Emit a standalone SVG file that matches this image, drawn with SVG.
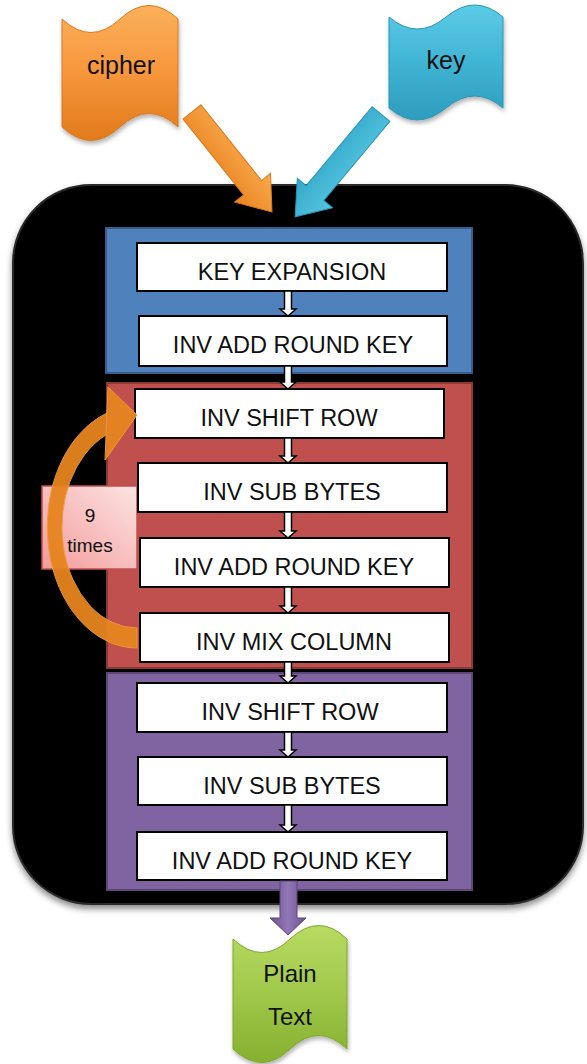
<svg xmlns="http://www.w3.org/2000/svg" width="587" height="1064" viewBox="0 0 587 1064">
<defs>
<style>
.box{fill:#ffffff;stroke:#000000;stroke-width:2}
.lbl{font-family:"Liberation Sans",Arial,sans-serif;font-size:23.5px;fill:#111111;text-anchor:middle}
.doc{font-family:"Liberation Sans",Arial,sans-serif;font-size:25px;fill:#111111;text-anchor:middle}
.conn{fill:#ffffff;stroke:#000000;stroke-width:1.5;stroke-linejoin:miter}
</style>
<linearGradient id="gOrange" x1="0" y1="0" x2="0" y2="1">
<stop offset="0" stop-color="#FBB05A"/><stop offset="0.5" stop-color="#F7963C"/><stop offset="1" stop-color="#E07A1C"/>
</linearGradient>
<linearGradient id="gBlue" x1="0" y1="0" x2="0" y2="1">
<stop offset="0" stop-color="#5CCBE6"/><stop offset="0.5" stop-color="#40B4D4"/><stop offset="1" stop-color="#2E9CBD"/>
</linearGradient>
<linearGradient id="gGreen" x1="0" y1="0" x2="0" y2="1">
<stop offset="0" stop-color="#B8DA62"/><stop offset="0.5" stop-color="#A0C84A"/><stop offset="1" stop-color="#86B030"/>
</linearGradient>
<linearGradient id="gOrangeArrow" x1="0" y1="0" x2="0" y2="1">
<stop offset="0" stop-color="#FBAA50"/><stop offset="1" stop-color="#E8841F"/>
</linearGradient>
<linearGradient id="gBlueArrow" x1="0" y1="0" x2="0" y2="1">
<stop offset="0" stop-color="#55C6E2"/><stop offset="1" stop-color="#34A8C8"/>
</linearGradient>
<linearGradient id="gPurpleArrow" x1="0" y1="0" x2="1" y2="0">
<stop offset="0" stop-color="#6E5290"/><stop offset="0.5" stop-color="#9277B6"/><stop offset="1" stop-color="#6E5290"/>
</linearGradient>
<linearGradient id="gPink" x1="1" y1="0" x2="0" y2="1">
<stop offset="0" stop-color="#FDE3E3"/><stop offset="1" stop-color="#F39B9B"/>
</linearGradient>
<filter id="shadow" x="-10%" y="-10%" width="120%" height="120%">
<feDropShadow dx="0" dy="4" stdDeviation="3" flood-color="#000000" flood-opacity="0.45"/>
</filter>
<filter id="softShadow" x="-20%" y="-20%" width="140%" height="140%">
<feDropShadow dx="1" dy="3" stdDeviation="2" flood-color="#000000" flood-opacity="0.3"/>
</filter>
</defs>

<g id="container">
<rect x="13" y="185" width="570" height="719" rx="78" ry="78" fill="#000000" stroke="#2a2a2a" stroke-width="2" filter="url(#shadow)"/>
</g>

<g id="panel-initial">
<rect x="106" y="228" width="366" height="145" fill="#4F81BD" stroke="#385D8A" stroke-width="2"/>
</g>
<g id="panel-rounds">
<rect x="107" y="383" width="365" height="285" fill="#C0504D" stroke="#8C3836" stroke-width="2"/>
</g>
<g id="panel-final">
<rect x="107" y="673" width="365" height="217" fill="#8064A2" stroke="#5C4776" stroke-width="2"/>
</g>

<g id="cipher">
<path d="M62,19 Q91,46 120,19 Q149,-8 178,19 L178,127 Q149,100 120,127 Q91,154 62,127 Z" fill="url(#gOrange)" stroke="#D9791E" stroke-width="1" filter="url(#softShadow)"/>
<text class="doc" x="121" y="74">cipher</text>
</g>

<g id="key">
<path d="M389,17 Q417,41 446,17 Q475,-7 503,17 L503,108 Q475,84 446,108 Q417,132 389,108 Z" fill="url(#gBlue)" stroke="#2B95B4" stroke-width="1" filter="url(#softShadow)"/>
<text class="doc" x="446" y="69">key</text>
</g>

<g id="plaintext">
<path d="M233,939 Q262,966 290,939 Q319,912 347,939 L347,1049 Q319,1022 290,1049 Q262,1076 233,1049 Z" fill="url(#gGreen)" stroke="#7FA52E" stroke-width="1" filter="url(#softShadow)"/>
<text class="doc" x="290" y="982" style="font-size:24px">Plain</text>
<text class="doc" x="290" y="1025" style="font-size:24px">Text</text>
</g>

<g id="times">
<rect x="42" y="486" width="95" height="83" fill="url(#gPink)" stroke="#C0504D" stroke-width="1.5"/>
<text class="doc" x="90" y="522" style="font-size:19px">9</text>
<text class="doc" x="90" y="552" style="font-size:19px">times</text>
</g>

<g id="box-key-expansion">
<rect class="box" x="137" y="243" width="310" height="48"/>
<text class="lbl" x="292" y="280">KEY EXPANSION</text>
</g>
<g id="box-inv-add-round-key-1">
<rect class="box" x="139" y="316" width="308" height="50"/>
<text class="lbl" x="293" y="353">INV ADD ROUND KEY</text>
</g>
<g id="box-inv-shift-row-1">
<rect class="box" x="135" y="389" width="309" height="49"/>
<text class="lbl" x="289" y="426">INV SHIFT ROW</text>
</g>
<g id="box-inv-sub-bytes-1">
<rect class="box" x="138" y="463" width="309" height="49"/>
<text class="lbl" x="292" y="500">INV SUB BYTES</text>
</g>
<g id="box-inv-add-round-key-2">
<rect class="box" x="140" y="538" width="309" height="49"/>
<text class="lbl" x="294" y="575">INV ADD ROUND KEY</text>
</g>
<g id="box-inv-mix-column">
<rect class="box" x="140" y="613" width="309" height="49"/>
<text class="lbl" x="294" y="650">INV MIX COLUMN</text>
</g>
<g id="box-inv-shift-row-2">
<rect class="box" x="137" y="683" width="310" height="49"/>
<text class="lbl" x="290" y="720">INV SHIFT ROW</text>
</g>
<g id="box-inv-sub-bytes-2">
<rect class="box" x="138" y="757" width="309" height="48"/>
<text class="lbl" x="292" y="794">INV SUB BYTES</text>
</g>
<g id="box-inv-add-round-key-3">
<rect class="box" x="137" y="832" width="310" height="48"/>
<text class="lbl" x="292" y="869">INV ADD ROUND KEY</text>
</g>

<g id="connectors">
<polygon fill="url(#gOrangeArrow)" stroke="#D97A1E" stroke-width="1" transform="translate(192,112) rotate(51.34)" points="0,-11.5 97,-11.5 97,-23 128,0 97,23 97,11.5 0,11.5"/>
<polygon fill="url(#gBlueArrow)" stroke="#2B95B4" stroke-width="1" transform="translate(381,114) rotate(129.86)" points="0,-11.5 103,-11.5 103,-23 134,0 103,23 103,11.5 0,11.5"/>
<g opacity="0.95" fill="#E6841F" stroke="#F29A3E" stroke-width="1">
<path d="M137,648 A90,121 0 0 1 107,413 L106,435 A75,101 0 0 0 137,628 Z"/>
<polygon points="108,387 137,415 105,460"/>
</g>
<polygon class="conn" points="284.5,291 291.5,291 291.5,309 296,309 288,316 280,309 284.5,309"/>
<polygon class="conn" points="284.5,366 291.5,366 291.5,382 296,382 288,389 280,382 284.5,382"/>
<polygon class="conn" points="284.5,438 291.5,438 291.5,456 296,456 288,463 280,456 284.5,456"/>
<polygon class="conn" points="284.5,512 291.5,512 291.5,531 296,531 288,538 280,531 284.5,531"/>
<polygon class="conn" points="284.5,587 291.5,587 291.5,606 296,606 288,613 280,606 284.5,606"/>
<polygon class="conn" points="284.5,662 291.5,662 291.5,676 296,676 288,683 280,676 284.5,676"/>
<polygon class="conn" points="284.5,732 291.5,732 291.5,750 296,750 288,757 280,750 284.5,750"/>
<polygon class="conn" points="284.5,805 291.5,805 291.5,825 296,825 288,832 280,825 284.5,825"/>
<polygon fill="url(#gPurpleArrow)" stroke="#5C4776" stroke-width="1" points="280,881 297,881 297,918 306,918 288,935 270,918 280,918"/>
</g>
</svg>
